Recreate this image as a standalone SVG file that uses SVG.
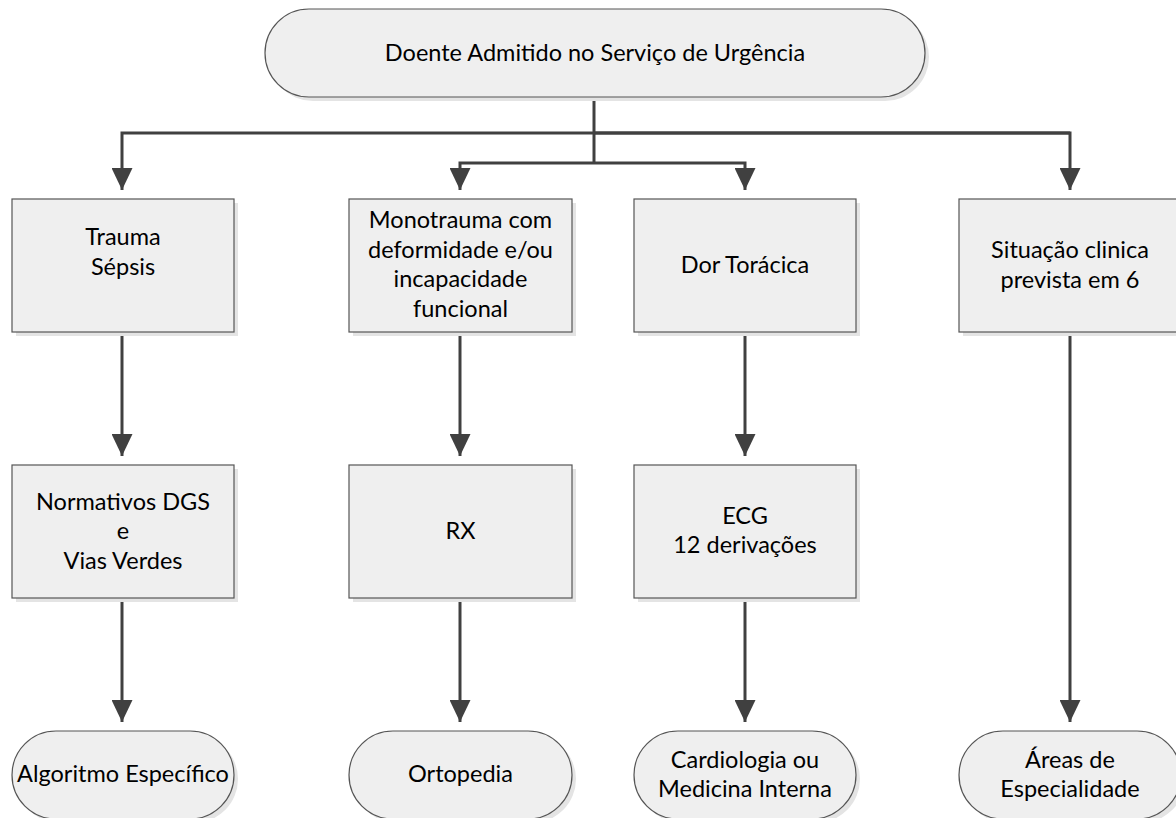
<svg xmlns="http://www.w3.org/2000/svg" width="1176" height="818" viewBox="0 0 1176 818">
<defs>
<marker id="arr" viewBox="0 0 22 21" refX="22" refY="10.5" markerWidth="22" markerHeight="21" markerUnits="userSpaceOnUse" orient="auto">
<path d="M0,0 L22,10.5 L0,21 Z" fill="#404040"/>
</marker>
</defs>
<style>
.box{fill:#efefef;stroke:#555;stroke-width:1.2}
.sh{fill:#e4e4e4}
.t{font-family:Lato,"Liberation Sans",sans-serif;font-size:23.5px;fill:#000;text-anchor:middle}
.c{fill:none;stroke:#404040;stroke-width:3}
</style>
<rect width="1176" height="818" fill="#fff"/>
<g id="connectors">
<path class="c" d="M594,97 V163"/>
<path class="c" d="M1070,133 H122 V190" marker-end="url(#arr)"/>
<path class="c" d="M594,133 H1070 V190" marker-end="url(#arr)"/>
<path class="c" d="M594,163 H460 V190" marker-end="url(#arr)"/>
<path class="c" d="M594,163 H745 V190" marker-end="url(#arr)"/>
<path class="c" d="M122,332 V456" marker-end="url(#arr)"/>
<path class="c" d="M460,332 V456" marker-end="url(#arr)"/>
<path class="c" d="M745,332 V456" marker-end="url(#arr)"/>
<path class="c" d="M1070,332 V722" marker-end="url(#arr)"/>
<path class="c" d="M122,598 V722" marker-end="url(#arr)"/>
<path class="c" d="M460,598 V722" marker-end="url(#arr)"/>
<path class="c" d="M745,598 V722" marker-end="url(#arr)"/>
</g>
<g id="n-top">
<rect class="sh" x="269" y="13" width="660" height="88" rx="44"/>
<rect class="box" x="265" y="9" width="660" height="88" rx="44"/>
<text class="t" x="595" y="61">Doente Admitido no Serviço de Urgência</text>
</g>
<g id="n-trauma">
<rect class="sh" x="16" y="203" width="222" height="133"/>
<rect class="box" x="12" y="199" width="222" height="133"/>
<text class="t" x="123" y="245">Trauma</text>
<text class="t" x="123" y="274.5">Sépsis</text>
</g>
<g id="n-mono">
<rect class="sh" x="353" y="203" width="223" height="133"/>
<rect class="box" x="349" y="199" width="223" height="133"/>
<text class="t" x="460.5" y="228">Monotrauma com</text>
<text class="t" x="460.5" y="257.5">deformidade e/ou</text>
<text class="t" x="460.5" y="287">incapacidade</text>
<text class="t" x="460.5" y="316.5">funcional</text>
</g>
<g id="n-dor">
<rect class="sh" x="638" y="203" width="222" height="133"/>
<rect class="box" x="634" y="199" width="222" height="133"/>
<text class="t" x="745" y="273">Dor Torácica</text>
</g>
<g id="n-situacao">
<rect class="sh" x="963" y="203" width="222" height="133"/>
<rect class="box" x="959" y="199" width="222" height="133"/>
<text class="t" x="1070" y="258">Situação clinica</text>
<text class="t" x="1070" y="287.5">prevista em 6</text>
</g>
<g id="n-normativos">
<rect class="sh" x="16" y="469" width="222" height="133"/>
<rect class="box" x="12" y="465" width="222" height="133"/>
<text class="t" x="123" y="509.5">Normativos DGS</text>
<text class="t" x="123" y="539">e</text>
<text class="t" x="123" y="568.5">Vias Verdes</text>
</g>
<g id="n-rx">
<rect class="sh" x="353" y="469" width="223" height="133"/>
<rect class="box" x="349" y="465" width="223" height="133"/>
<text class="t" x="460.5" y="539">RX</text>
</g>
<g id="n-ecg">
<rect class="sh" x="638" y="469" width="222" height="133"/>
<rect class="box" x="634" y="465" width="222" height="133"/>
<text class="t" x="745" y="523.5">ECG</text>
<text class="t" x="745" y="553">12 derivações</text>
</g>
<g id="n-algoritmo">
<rect class="sh" x="16" y="735" width="222" height="88" rx="44"/>
<rect class="box" x="12" y="731" width="222" height="88" rx="44"/>
<text class="t" x="123" y="782">Algoritmo Específico</text>
</g>
<g id="n-ortopedia">
<rect class="sh" x="353" y="735" width="223" height="88" rx="44"/>
<rect class="box" x="349" y="731" width="223" height="88" rx="44"/>
<text class="t" x="460.5" y="782">Ortopedia</text>
</g>
<g id="n-cardio">
<rect class="sh" x="638" y="735" width="222" height="88" rx="44"/>
<rect class="box" x="634" y="731" width="222" height="88" rx="44"/>
<text class="t" x="745" y="768">Cardiologia ou</text>
<text class="t" x="745" y="797">Medicina Interna</text>
</g>
<g id="n-areas">
<rect class="sh" x="963" y="735" width="222" height="88" rx="44"/>
<rect class="box" x="959" y="731" width="222" height="88" rx="44"/>
<text class="t" x="1070" y="768">Áreas de</text>
<text class="t" x="1070" y="797">Especialidade</text>
</g>
</svg>
